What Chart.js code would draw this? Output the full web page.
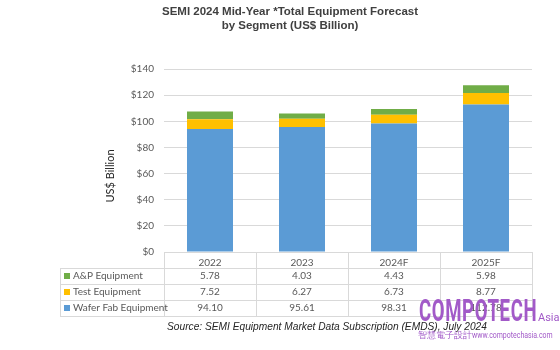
<!DOCTYPE html>
<html>
<head>
<meta charset="utf-8">
<script src="https://cdn.jsdelivr.net/npm/chart.js@4"></script>
<style>
  body { margin: 0; background: #fff; }
  #wrap { position: relative; width: 560px; height: 350px; }
  .wm { position: absolute; color: #a25ac8; font-family: Roboto, sans-serif; white-space: nowrap; }
</style>
</head>
<body>
<div id="wrap">
  <canvas id="grafico" width="560" height="350"></canvas>
  <div class="wm" style="left:419px;top:292px;font-size:31px;font-weight:bold;transform:scaleX(0.6);transform-origin:left top;letter-spacing:1px;">COMPOTECH</div>
  <div class="wm" style="left:538px;top:311px;font-size:11px;">Asia</div>
  <div class="wm" style="left:418px;top:330px;font-size:8.5px;">智慧電子設計<span style="display:inline-block;font-size:8.5px;transform:scaleX(0.82);transform-origin:left center;">www.compotechasia.com</span></div>
</div>
<script>
const anos = ['2022', '2023', '2024F', '2025F'];
const waferFab = [94.10, 95.61, 98.31, 112.78];
const testEq = [7.52, 6.27, 6.73, 8.77];
const apEq = [5.78, 4.03, 4.43, 5.98];

const cores = { wafer: '#5b9bd5', test: '#ffc000', ap: '#70ad47' };
const fonte = 'Lato, "Open Sans", sans-serif';

// linhas da tabela (ordem do topo para baixo)
const linhasTabela = [
  { nome: 'A&P Equipment', cor: cores.ap, dados: apEq },
  { nome: 'Test Equipment', cor: cores.test, dados: testEq },
  { nome: 'Wafer Fab Equipment', cor: cores.wafer, dados: waferFab }
];

const tabelaPlugin = {
  id: 'tabela',
  afterDraw(chart) {
    const c = chart.ctx;
    const x = chart.scales.x;
    const base = chart.chartArea.bottom;
    const passo = x.getPixelForValue(1) - x.getPixelForValue(0);
    const esq = 60, dir = x.getPixelForValue(3) + passo / 2;
    const topoLinhas = 268, alt = 16;
    c.save();

    // titulo
    c.font = 'bold 11.5px "Liberation Sans", Arial, sans-serif';
    c.fillStyle = '#404040';
    c.textAlign = 'center';
    c.textBaseline = 'middle';
    c.fillText('SEMI 2024 Mid-Year *Total Equipment Forecast', 290, 12);
    c.fillText('by Segment (US$ Billion)', 290, 26);

    // titulo do eixo y
    c.save();
    c.translate(110, 176);
    c.rotate(-Math.PI / 2);
    c.font = '11px ' + fonte;
    c.fillStyle = '#262626';
    c.fillText('US$ Billion', 0, 0);
    c.restore();

    c.strokeStyle = '#d9d9d9';
    c.lineWidth = 1;
    // linhas horizontais
    for (let i = 0; i <= 3; i++) {
      const y = Math.round(topoLinhas + i * alt) + 0.5;
      c.beginPath(); c.moveTo(esq, y); c.lineTo(dir, y); c.stroke();
    }
    // verticais
    for (let i = 0; i <= 4; i++) {
      const xx = Math.round(x.getPixelForValue(0) - passo / 2 + i * passo) + 0.5;
      c.beginPath(); c.moveTo(xx, base); c.lineTo(xx, topoLinhas + 3 * alt); c.stroke();
    }
    c.beginPath(); c.moveTo(esq + 0.5, topoLinhas); c.lineTo(esq + 0.5, topoLinhas + 3 * alt); c.stroke();

    c.font = '10px ' + fonte;
    linhasTabela.forEach((l, r) => {
      const yc = topoLinhas + r * alt + alt / 2;
      c.fillStyle = l.cor;
      c.fillRect(64, yc - 3, 6, 6);
      c.fillStyle = '#595959';
      c.textAlign = 'left';
      c.fillText(l.nome, 73, yc);
      c.textAlign = 'center';
      l.dados.forEach((v, i) => c.fillText(v.toFixed(2), x.getPixelForValue(i), yc));
    });

    c.font = 'italic 10.2px "Liberation Sans", Arial, sans-serif';
    c.fillStyle = '#262626';
    c.textAlign = 'center';
    c.fillText('Source: SEMI Equipment Market Data Subscription (EMDS), July 2024', 327, 327);
    c.restore();
  }
};

new Chart(document.getElementById('grafico').getContext('2d'), {
  type: 'bar',
  data: {
    labels: anos,
    datasets: [
      { label: 'Wafer Fab Equipment', data: waferFab, backgroundColor: cores.wafer },
      { label: 'Test Equipment', data: testEq, backgroundColor: cores.test },
      { label: 'A&P Equipment', data: apEq, backgroundColor: cores.ap }
    ]
  },
  options: {
    responsive: false,
    animation: false,
    layout: { padding: { top: 69, left: 100, right: 28, bottom: 0 } },
    datasets: { bar: { categoryPercentage: 1, barPercentage: 0.5 } },
    plugins: {
      legend: { display: false },
      tooltip: { enabled: false },
      title: { display: false }
    },
    scales: {
      x: {
        stacked: true,
        grid: { display: false },
        border: { display: false },
        ticks: { color: '#595959', font: { family: fonte, size: 10 }, padding: -3 },
        afterFit(s) { s.height = 98; }
      },
      y: {
        stacked: true,
        min: 0, max: 140,
        grid: { color: '#d9d9d9', drawTicks: false },
        border: { display: false },
        ticks: {
          stepSize: 20, color: '#595959', padding: 10,
          font: { family: fonte, size: 10 },
          callback: v => '$' + v
        },
        afterFit(s) { s.width = 64; }
      }
    }
  },
  plugins: [tabelaPlugin]
});
</script>
</body>
</html>
